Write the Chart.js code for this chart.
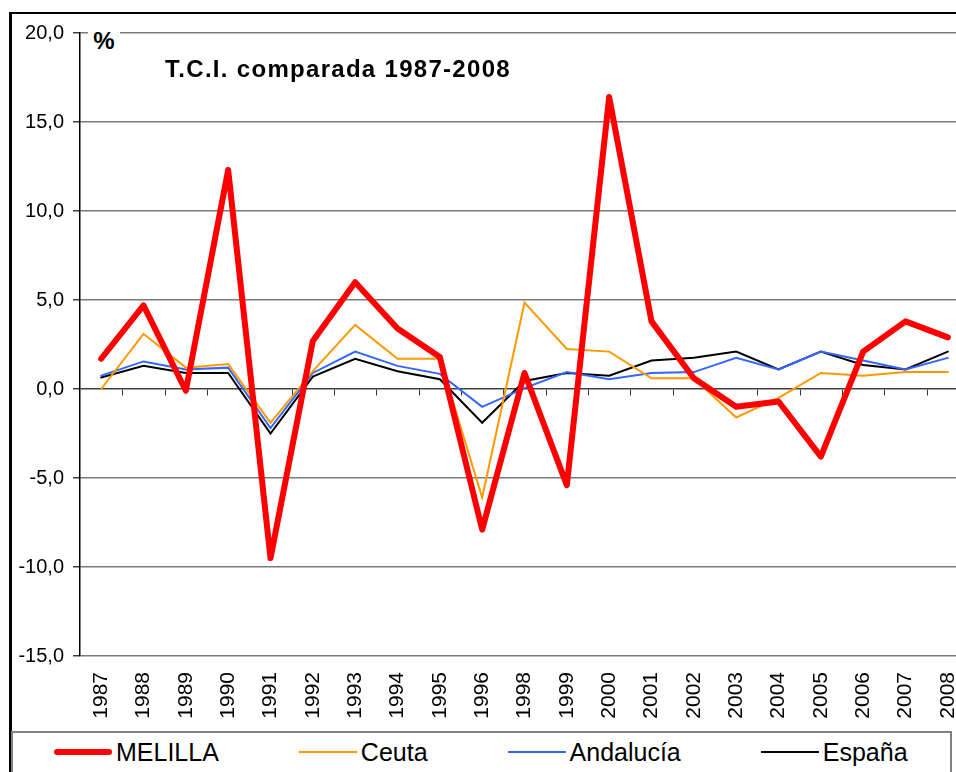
<!DOCTYPE html>
<html>
<head>
<meta charset="utf-8">
<script src="https://cdn.jsdelivr.net/npm/chart.js@4.4.1/dist/chart.umd.min.js"></script>
<style>
  html, body { margin: 0; padding: 0; background: #fff; }
  #page { position: relative; width: 956px; height: 772px; overflow: hidden; font-family: "Liberation Sans", Arial, sans-serif; }
  #frame { position: absolute; left: 9px; top: 12px; width: 2000px; height: 2000px; border-left: 3px solid #000; border-top: 2px solid #000; }
  #chart { position: absolute; left: 0; top: 0; }
  #title { position: absolute; left: 165px; top: 57px; font-size: 24px; line-height: 24px; font-weight: bold; letter-spacing: 1.3px; color: #000; white-space: nowrap; }
  #unit { position: absolute; left: 88px; top: 24px; width: 32px; height: 26px; background: #fff; font-size: 24px; line-height: 24px; font-weight: bold; text-align: center; padding-top: 5px; }
  #legend { position: absolute; left: 11px; top: 731px; width: 941px; height: 100px; box-sizing: border-box; border: 2px solid #808080; background: #fff; display: flex; align-items: flex-start; padding-left: 41px; gap: 80px; }
  .item { display: flex; align-items: center; height: 38px; font-size: 25px; white-space: nowrap; }
  .swatch { display: inline-block; width: 58px; margin-right: 4px; }
</style>
</head>
<body>
<div id="page">
  <div id="frame"></div>
  <canvas id="chart" width="990" height="800"></canvas>
  <div id="unit">%</div>
  <div id="title">T.C.I. comparada 1987-2008</div>
  <div id="legend"></div>
</div>
<script>
const years = ['1987', '1988', '1989', '1990', '1991', '1992', '1993', '1994', '1995', '1996',
  '1998', '1999', '2000', '2001', '2002', '2003', '2004', '2005', '2006', '2007', '2008'];

const melilla = [1.7, 4.7, -0.1, 12.3, -9.5, 2.7, 6.0, 3.4, 1.8, -7.9,
  0.9, -5.4, 16.4, 3.8, 0.6, -1.0, -0.7, -3.8, 2.1, 3.8, 2.9];
const ceuta = [0.0, 3.1, 1.2, 1.4, -1.9, 1.0, 3.6, 1.7, 1.7, -6.1,
  4.85, 2.25, 2.1, 0.6, 0.6, -1.6, -0.5, 0.9, 0.75, 0.95, 0.95];
const andalucia = [0.75, 1.55, 1.1, 1.2, -2.2, 0.9, 2.1, 1.3, 0.85, -1.0,
  0.05, 0.95, 0.55, 0.9, 0.95, 1.75, 1.1, 2.1, 1.6, 1.1, 1.75];
const espana = [0.65, 1.3, 0.9, 0.9, -2.5, 0.7, 1.7, 1.0, 0.55, -1.9,
  0.45, 0.9, 0.75, 1.6, 1.75, 2.1, 1.1, 2.1, 1.35, 1.1, 2.1];

const yTicks = [-15, -10, -5, 0, 5, 10, 15, 20];

const series = [
  { label: 'MELILLA', data: melilla, color: '#ff0000', width: 6 },
  { label: 'Ceuta', data: ceuta, color: '#ff9900', width: 2 },
  { label: 'Andalucía', data: andalucia, color: '#3366ff', width: 2 },
  { label: 'España', data: espana, color: '#000000', width: 2 },
];

const FONT = '"Liberation Sans", Arial, sans-serif';

// small tick marks along the zero line, between categories
const zeroTicks = {
  id: 'zeroTicks',
  beforeDatasetsDraw(chart) {
    const { ctx, scales: { x, y } } = chart;
    const y0 = Math.round(y.getPixelForValue(0)) + 0.5;
    ctx.save();
    ctx.strokeStyle = '#333';
    ctx.lineWidth = 1;
    ctx.beginPath();
    for (let i = 0; i < years.length; i++) {
      const px = Math.round(x.getPixelForValue(i + 0.5)) + 0.5;
      ctx.moveTo(px, y0);
      ctx.lineTo(px, y0 + 6);
    }
    ctx.stroke();
    ctx.restore();
  }
};

new Chart(document.getElementById('chart').getContext('2d'), {
  type: 'line',
  data: {
    labels: years,
    datasets: series.map((s) => ({
      label: s.label,
      data: s.data,
      borderColor: s.color,
      backgroundColor: s.color,
      borderWidth: s.width,
      borderCapStyle: 'round',
      borderJoinStyle: s.width > 3 ? 'round' : 'miter',
      pointRadius: 0,
      tension: 0,
      fill: false,
    })),
  },
  options: {
    responsive: false,
    animation: false,
    layout: { padding: { left: 0, top: 33, right: 21, bottom: 0 } },
    plugins: {
      legend: { display: false },
      tooltip: { enabled: false },
    },
    scales: {
      x: {
        offset: true,
        grid: { display: false, drawTicks: false },
        border: { display: false },
        ticks: {
          autoSkip: false,
          maxRotation: 90,
          minRotation: 90,
          padding: 16,
          color: '#000',
          font: { family: FONT, size: 21 },
        },
        afterFit(scale) { scale.height = 144; },
      },
      y: {
        min: yTicks[0],
        max: yTicks[yTicks.length - 1],
        afterBuildTicks(scale) { scale.ticks = yTicks.map((v) => ({ value: v })); },
        grid: {
          color: (c) => (c.tick && c.tick.value === 0 ? '#404040' : '#7a7a7a'),
          lineWidth: 1.5,
          tickLength: 7,
          tickColor: '#404040',
        },
        border: { color: '#000', width: 1.5 },
        ticks: {
          padding: 9,
          color: '#000',
          font: { family: FONT, size: 20 },
          callback: (v) => v.toFixed(1).replace('.', ','),
        },
        afterFit(scale) { scale.width = 80; },
      },
    },
  },
  plugins: [zeroTicks],
});

// legend box
const legend = document.getElementById('legend');
series.forEach((s) => {
  const item = document.createElement('div');
  item.className = 'item';
  const sw = document.createElement('span');
  sw.className = 'swatch';
  sw.style.height = s.width + 'px';
  sw.style.background = s.color;
  if (s.width > 3) sw.style.borderRadius = '3px';
  item.appendChild(sw);
  item.appendChild(document.createTextNode(s.label));
  legend.appendChild(item);
});
</script>
</body>
</html>
